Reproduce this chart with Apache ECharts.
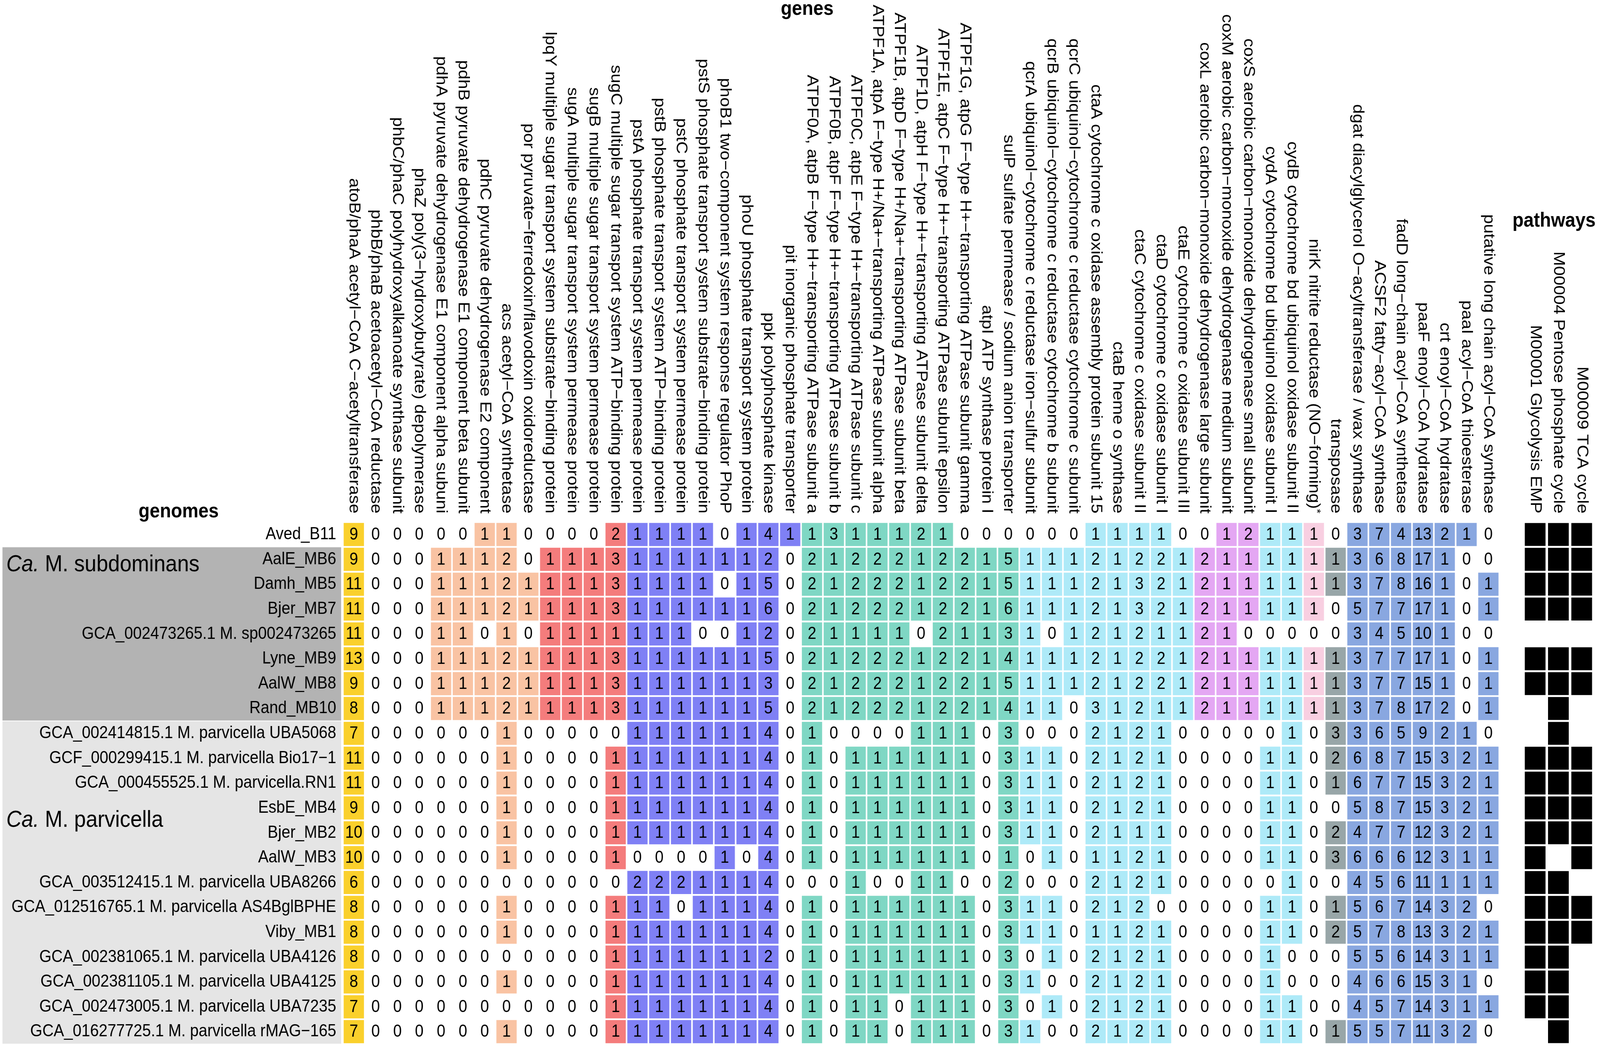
<!DOCTYPE html>
<html>
<head>
<meta charset="utf-8">
<script src="https://cdn.jsdelivr.net/npm/echarts@6/dist/echarts.min.js"></script>
<style>
html,body{margin:0;padding:0;background:#ffffff;overflow:hidden;width:100%;height:100%;}
#wrap{position:relative;width:100vw;height:100vh;overflow:hidden;background:#ffffff;}
#chart{position:absolute;left:0;top:0;width:4559px;height:2682px;transform-origin:0 0;}
</style>
</head>
<body>
<div id="wrap"><div id="chart"></div></div>
<script>
// ---------------- DATA ----------------
const genomes = [
  'Aved_B11',
  'AalE_MB6',
  'Damh_MB5',
  'Bjer_MB7',
  'GCA_002473265.1 M. sp002473265',
  'Lyne_MB9',
  'AalW_MB8',
  'Rand_MB10',
  'GCA_002414815.1 M. parvicella UBA5068',
  'GCF_000299415.1 M. parvicella Bio17−1',
  'GCA_000455525.1 M. parvicella.RN1',
  'EsbE_MB4',
  'Bjer_MB2',
  'AalW_MB3',
  'GCA_003512415.1 M. parvicella UBA8266',
  'GCA_012516765.1 M. parvicella AS4BglBPHE',
  'Viby_MB1',
  'GCA_002381065.1 M. parvicella UBA4126',
  'GCA_002381105.1 M. parvicella UBA4125',
  'GCA_002473005.1 M. parvicella UBA7235',
  'GCA_016277725.1 M. parvicella rMAG−165'
];

const genes = [
  'atoB/phaA acetyl−CoA C−acetyltransferase',
  'phbB/phaB acetoacetyl−CoA reductase',
  'phbC/phaC polyhydroxyalkanoate synthase subunit',
  'phaZ poly(3−hydroxybutyrate) depolymerase',
  'pdhA pyruvate dehydrogenase E1 component alpha subuni',
  'pdhB pyruvate dehydrogenase E1 component beta subunit',
  'pdhC pyruvate dehydrogenase E2 component',
  'acs acetyl−CoA synthetase',
  'por pyruvate−ferredoxin/flavodoxin oxidoreductase',
  'lpqY multiple sugar transport system substrate−binding protein',
  'sugA multiple sugar transport system permease protein',
  'sugB multiple sugar transport system permease protein',
  'sugC multiple sugar transport system ATP−binding protein',
  'pstA phosphate transport system permease protein',
  'pstB phosphate transport system ATP−binding protein',
  'pstC phosphate transport system permease protein',
  'pstS phosphate transport system substrate−binding protein',
  'phoB1 two−component system response regulator PhoP',
  'phoU phosphate transport system protein',
  'ppk polyphosphate kinase',
  'pit inorganic phosphate transporter',
  'ATPF0A, atpB F−type H+−transporting ATPase subunit a',
  'ATPF0B, atpF F−type H+−transporting ATPase subunit b',
  'ATPF0C, atpE F−type H+−transporting ATPase subunit c',
  'ATPF1A, atpA F−type H+/Na+−transporting ATPase subunit alpha',
  'ATPF1B, atpD F−type H+/Na+−transporting ATPase subunit beta',
  'ATPF1D, atpH F−type H+−transporting ATPase subunit delta',
  'ATPF1E, atpC F−type H+−transporting ATPase subunit epsilon',
  'ATPF1G, atpG F−type H+−transporting ATPase subunit gamma',
  'atpI ATP synthase protein I',
  'sulP sulfate permease / sodium anion transporter',
  'qcrA ubiquinol−cytochrome c reductase iron−sulfur subunit',
  'qcrB ubiquinol−cytochrome c reductase cytochrome b subunit',
  'qcrC ubiquinol−cytochrome c reductase cytochrome c subunit',
  'ctaA cytochrome c oxidase assembly protein subunit 15',
  'ctaB heme o synthase',
  'ctaC cytochrome c oxidase subunit II',
  'ctaD cytochrome c oxidase subunit I',
  'ctaE cytochrome c oxidase subunit III',
  'coxL aerobic carbon−monoxide dehydrogenase large subunit',
  'coxM aerobic carbon−monoxide dehydrogenase medium subunit',
  'coxS aerobic carbon−monoxide dehydrogenase small subunit',
  'cydA cytochrome bd ubiquinol oxidase subunit I',
  'cydB cytochrome bd ubiquinol oxidase subunit II',
  'nirK nitrite reductase (NO−forming)*',
  'transposase',
  'dgat diacylglycerol O−acyltransferase / wax synthase',
  'ACSF2 fatty−acyl−CoA synthase',
  'fadD long−chain acyl−CoA synthetase',
  'paaF enoyl−CoA hydratase',
  'crt enoyl−CoA hydratase',
  'paaI acyl−CoA thioesterase',
  'putative long chain acyl−CoA synthase'
];

// functional group of every gene column (drives the fill colour)
const geneGroup = [
  'acetyl',
  'carbon','carbon','carbon','carbon','carbon','carbon','carbon','carbon',
  'sugar','sugar','sugar','sugar',
  'phosphate','phosphate','phosphate','phosphate','phosphate','phosphate','phosphate','phosphate',
  'atp','atp','atp','atp','atp','atp','atp','atp','atp','atp',
  'resp','resp','resp','resp','resp','resp','resp','resp',
  'cox','cox','cox',
  'resp','resp',
  'nir',
  'transposase',
  'lipid','lipid','lipid','lipid','lipid','lipid','lipid'
];

const pathways = [
  'M00001 Glycolysis EMP',
  'M00004 Pentose phosphate cycle',
  'M00009 TCA cycle'
];

// gene copy numbers, one row per genome (same order as genomes)
const geneCounts = [
  [9,0,0,0,0,0,1,1,0,0,0,0,2, 1,1,1,1,0,1,4,1, 1,3,1,1,1, 2,1,0,0,0,0,0,0,1,1,1,1,0,0, 1,2,1,1,1,0, 3,7,4,13,2,1,0],
  [9,0,0,0,1,1,1,2,0,1,1,1,3, 1,1,1,1,1,1,2,0, 2,1,2,2,2, 1,2,2,1,5,1,1,1,2,1,2,2,1,2, 1,1,1,1,1,1, 3,6,8,17,1,0,0],
  [11,0,0,0,1,1,1,2,1,1,1,1,3, 1,1,1,1,0,1,5,0, 2,1,2,2,2, 1,2,2,1,5,1,1,1,2,1,3,2,1,2, 1,1,1,1,1,1, 3,7,8,16,1,0,1],
  [11,0,0,0,1,1,1,2,1,1,1,1,3, 1,1,1,1,1,1,6,0, 2,1,2,2,2, 1,2,2,1,6,1,1,1,2,1,3,2,1,2, 1,1,1,1,1,0, 5,7,7,17,1,0,1],
  [11,0,0,0,1,1,0,1,0,1,1,1,1, 1,1,1,0,0,1,2,0, 2,1,1,1,1, 0,2,1,1,3,1,0,1,2,1,2,1,1,2, 1,0,0,0,0,0, 3,4,5,10,1,0,0],
  [13,0,0,0,1,1,1,2,1,1,1,1,3, 1,1,1,1,1,1,5,0, 2,1,2,2,2, 1,2,2,1,4,1,1,1,2,1,2,2,1,2, 1,1,1,1,1,1, 3,7,7,17,1,0,1],
  [9,0,0,0,1,1,1,2,1,1,1,1,3, 1,1,1,1,1,1,3,0, 2,1,2,2,2, 1,2,2,1,5,1,1,1,2,1,2,2,1,2, 1,1,1,1,1,1, 3,7,7,15,1,0,1],
  [8,0,0,0,1,1,1,2,1,1,1,1,3, 1,1,1,1,1,1,5,0, 2,1,2,2,2, 1,2,2,1,4,1,1,0,3,1,2,1,1,2, 1,1,1,1,1,1, 3,7,8,17,2,0,1],
  [7,0,0,0,0,0,0,1,0,0,0,0,0, 1,1,1,1,1,1,4,0, 1,0,0,0,0, 1,1,1,0,3,0,0,0,2,1,2,1,0,0, 0,0,0,1,0,3, 3,6,5,9,2,1,0],
  [11,0,0,0,0,0,0,1,0,0,0,0,1, 1,1,1,1,1,1,4,0, 1,0,1,1,1, 1,1,1,0,3,1,1,0,2,1,2,1,0,0, 0,0,1,1,0,2, 6,8,7,15,3,2,1],
  [11,0,0,0,0,0,0,1,0,0,0,0,1, 1,1,1,1,1,1,4,0, 1,0,1,1,1, 1,1,1,0,3,1,1,0,2,1,2,1,0,0, 0,0,1,1,0,1, 6,7,7,15,3,2,1],
  [9,0,0,0,0,0,0,1,0,0,0,0,1, 1,1,1,1,1,1,4,0, 1,0,1,1,1, 1,1,1,0,3,1,1,0,2,1,2,1,0,0, 0,0,1,1,0,0, 5,8,7,15,3,2,1],
  [10,0,0,0,0,0,0,1,0,0,0,0,1, 1,1,1,1,1,1,4,0, 1,0,1,1,1, 1,1,1,0,3,1,1,0,2,1,1,1,0,0, 0,0,1,1,0,2, 4,7,7,12,3,2,1],
  [10,0,0,0,0,0,0,1,0,0,0,0,1, 0,0,0,0,1,0,4,0, 1,0,1,1,1, 1,1,1,0,1,0,1,0,1,1,2,1,0,0, 0,0,1,1,0,3, 6,6,6,12,3,1,1],
  [6,0,0,0,0,0,0,0,0,0,0,0,0, 2,2,2,1,1,1,4,0, 0,0,1,0,0, 1,1,0,0,2,0,0,0,2,1,2,1,0,0, 0,0,0,1,0,0, 4,5,6,11,1,1,1],
  [8,0,0,0,0,0,0,1,0,0,0,0,1, 1,1,0,1,1,1,4,0, 1,0,1,1,1, 1,1,1,0,3,1,1,0,2,1,2,0,0,0, 0,0,1,1,0,1, 5,6,7,14,3,2,0],
  [8,0,0,0,0,0,0,1,0,0,0,0,1, 1,1,1,1,1,1,4,0, 1,0,1,1,1, 1,1,1,0,3,1,1,0,1,1,2,1,0,0, 0,0,1,1,0,2, 5,7,8,13,3,2,1],
  [8,0,0,0,0,0,0,0,0,0,0,0,1, 1,1,1,1,1,1,2,0, 1,0,1,1,1, 1,1,1,0,3,0,1,0,2,1,2,1,0,0, 0,0,1,0,0,0, 5,5,6,14,3,1,1],
  [8,0,0,0,0,0,0,1,0,0,0,0,1, 1,1,1,1,1,1,4,0, 1,0,1,1,1, 1,1,1,0,3,1,0,0,2,1,2,1,0,0, 0,0,1,0,0,0, 4,6,6,15,3,1,0],
  [7,0,0,0,0,0,0,0,0,0,0,0,1, 1,1,1,1,1,1,4,0, 1,0,1,1,0, 1,1,1,0,3,0,1,0,2,1,2,1,0,0, 0,0,1,1,0,0, 4,5,7,14,3,1,1],
  [7,0,0,0,0,0,0,1,0,0,0,0,1, 1,1,1,1,1,1,4,0, 1,0,1,1,0, 1,1,1,0,3,1,0,0,2,1,2,1,0,0, 0,0,1,1,0,1, 5,5,7,11,3,2,0]
];

// pathway completeness (1 = complete), one row per genome
const pathwayPresence = [
  [1,1,1],[1,1,1],[1,1,1],[1,1,1],[0,0,0],[1,1,1],[1,1,1],[0,1,0],
  [0,1,0],[1,1,1],[1,1,1],[1,1,1],[1,1,1],[1,0,1],[1,1,0],[1,1,1],
  [1,1,1],[1,1,0],[1,1,0],[1,1,0],[0,1,0]
];

// clades shown as grey bands behind the genome names
const cladeNames = ['Ca. M. subdominans', 'Ca. M. parvicella'];
const cladeFirst = ['AalE_MB6', 'GCA_002414815.1 M. parvicella UBA5068'];
const cladeLast  = ['Rand_MB10', 'GCA_016277725.1 M. parvicella rMAG−165'];
const cladeLabelRow = ['AalE_MB6', 'EsbE_MB4'];

// ---------------- STYLE ----------------
const FONT = '"Liberation Sans", Arial, Helvetica, sans-serif';
const groupColor = {
  acetyl: '#FAD02C',
  carbon: '#F9C3A3',
  sugar: '#F47C7C',
  phosphate: '#7F80F5',
  atp: '#7FD7C4',
  resp: '#AEEAF8',
  cox: '#E4A7F3',
  nir: '#F8CFE1',
  transposase: '#98A6A8',
  lipid: '#89A7E0'
};
const cladeStyle = [
  { fill: '#B3B3B3', labelShift: 0.22 },
  { fill: '#E5E5E5', labelShift: 0.5 }
];
const LABEL_SIZE = 44.5, CELL_SIZE = 44, CLADE_SIZE = 60, TITLE_SIZE = 52;

// design size of the figure; the page is fitted to the window
const BASE_W = 4559, BASE_H = 2682;
const el = document.getElementById('chart');
el.style.transform = 'scale(' + (window.innerWidth / BASE_W) + ',' + (window.innerHeight / BASE_H) + ')';

// ---------------- BUILD ----------------
const cellData = [];
geneCounts.forEach((row, r) => row.forEach((v, c) => cellData.push([c, r, v])));
const pathData = [];
pathwayPresence.forEach((row, r) => row.forEach((v, c) => pathData.push([c, r, v])));
const cladeData = cladeNames.map((n, i) => [0, genomes.indexOf(cladeFirst[i]), genomes.indexOf(cladeLast[i]), genomes.indexOf(cladeLabelRow[i])]);

const chart = echarts.init(el, null, { renderer: 'canvas', width: BASE_W, height: BASE_H });

const axisLabelTop = {
  rotate: 90,
  interval: 0,
  fontSize: LABEL_SIZE,
  fontFamily: FONT,
  color: '#000',
  margin: 22,
  formatter: function (v) { return v.endsWith('*') ? v.slice(0, -1) + '{sup|*}' : v; },
  rich: { sup: { fontSize: 30, fontFamily: FONT, color: '#000', verticalAlign: 'top' } }
};

const option = {
  animation: false,
  backgroundColor: '#ffffff',
  grid: [
    { left: 977, top: 1336, width: 3295, height: 1336 },
    { left: 4341, top: 1336, width: 199, height: 1336 },
    { left: 7, top: 1336, width: 965, height: 1336 }
  ],
  xAxis: [
    { type: 'category', gridIndex: 0, position: 'top', data: genes,
      axisLine: { show: false }, axisTick: { show: false }, splitLine: { show: false },
      axisLabel: axisLabelTop },
    { type: 'category', gridIndex: 1, position: 'top', data: pathways,
      axisLine: { show: false }, axisTick: { show: false }, splitLine: { show: false },
      axisLabel: axisLabelTop },
    { type: 'value', gridIndex: 2, min: 0, max: 1, show: false }
  ],
  yAxis: [
    { type: 'category', gridIndex: 0, data: genomes, inverse: true, z: 5,
      axisLine: { show: false }, axisTick: { show: false }, splitLine: { show: false },
      axisLabel: { interval: 0, fontSize: LABEL_SIZE, fontFamily: FONT, color: '#000', margin: 19 } },
    { type: 'category', gridIndex: 1, data: genomes, inverse: true, show: false },
    { type: 'category', gridIndex: 2, data: genomes, inverse: true, show: false }
  ],
  graphic: [
    { type: 'text', x: 2300, y: 24, z: 10,
      style: { text: 'genes', fontSize: TITLE_SIZE, fontWeight: 'bold', fontFamily: FONT, fill: '#000', align: 'center', verticalAlign: 'middle' } },
    { type: 'text', x: 509, y: 1310, z: 10,
      style: { text: 'genomes', fontSize: TITLE_SIZE, fontWeight: 'bold', fontFamily: FONT, fill: '#000', align: 'center', verticalAlign: 'middle' } },
    { type: 'text', x: 4428, y: 566, z: 10,
      style: { text: 'pathways', fontSize: TITLE_SIZE, fontWeight: 'bold', fontFamily: FONT, fill: '#000', align: 'center', verticalAlign: 'middle' } }
  ],
  series: [
    {
      type: 'custom', xAxisIndex: 2, yAxisIndex: 2, z: 1,
      data: cladeData,
      encode: { x: 0, y: 1 },
      renderItem: function (params, api) {
        const i = params.dataIndex;
        const cs = params.coordSys;
        const s = api.size([1, 1]);
        const top = api.coord([0, api.value(1)])[1] - s[1] / 2 + 1;
        const bot = api.coord([0, api.value(2)])[1] + s[1] / 2 - 1;
        const ly = api.coord([0, api.value(3)])[1] + cladeStyle[i].labelShift * s[1];
        const parts = cladeNames[i].split(' ');
        return {
          type: 'group',
          children: [
            { type: 'rect', shape: { x: cs.x, y: top, width: cs.width, height: bot - top },
              style: { fill: cladeStyle[i].fill } },
            { type: 'text', x: cs.x + 11, y: ly,
              style: { text: '{i|' + parts[0] + '} ' + parts.slice(1).join(' '),
                fontSize: CLADE_SIZE, fontFamily: FONT, fill: '#000', align: 'left', verticalAlign: 'middle',
                rich: { i: { fontSize: CLADE_SIZE, fontFamily: FONT, fontStyle: 'italic', fill: '#000' } } } }
          ]
        };
      }
    },
    {
      type: 'custom', xAxisIndex: 0, yAxisIndex: 0, z: 2,
      data: cellData,
      encode: { x: 0, y: 1 },
      renderItem: function (params, api) {
        const c = api.value(0), r = api.value(1), v = api.value(2);
        const p = api.coord([c, r]);
        const s = api.size([1, 1]);
        const g = 4.4;
        const children = [];
        if (v > 0) {
          children.push({ type: 'rect',
            shape: { x: p[0] - s[0] / 2 + g / 2, y: p[1] - s[1] / 2 + g / 2, width: s[0] - g, height: s[1] - g },
            style: { fill: groupColor[geneGroup[c]] } });
        }
        children.push({ type: 'text', x: p[0], y: p[1] + 1,
          style: { text: String(v), fontSize: CELL_SIZE, fontFamily: FONT, fill: '#000', align: 'center', verticalAlign: 'middle' } });
        return { type: 'group', children: children };
      }
    },
    {
      type: 'custom', xAxisIndex: 1, yAxisIndex: 1, z: 2,
      data: pathData,
      encode: { x: 0, y: 1 },
      renderItem: function (params, api) {
        const v = api.value(2);
        if (!v) return { type: 'group', children: [] };
        const p = api.coord([api.value(0), api.value(1)]);
        const s = api.size([1, 1]);
        const gx = 7.3, gy = 5;
        return { type: 'rect',
          shape: { x: p[0] - s[0] / 2 + gx / 2, y: p[1] - s[1] / 2 + gy / 2, width: s[0] - gx, height: s[1] - gy },
          style: { fill: '#000' } };
      }
    }
  ]
};
chart.setOption(option);
</script>
</body>
</html>
